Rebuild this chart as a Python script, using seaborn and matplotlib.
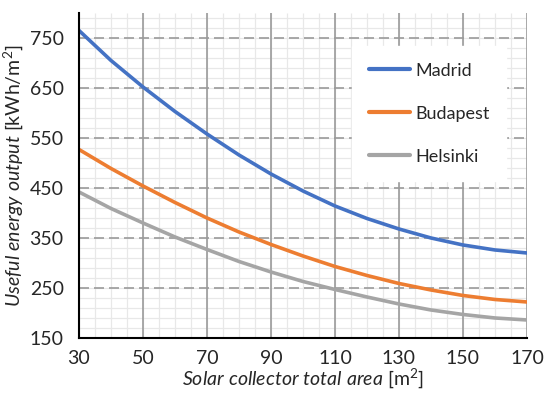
import numpy as np
import pandas as pd
import matplotlib.pyplot as plt
import seaborn as sns

# data
area = [30, 40, 50, 60, 70, 80, 90, 100, 110, 120, 130, 140, 150, 160, 170]
madrid = [765, 705, 652, 603, 558, 516, 478, 444, 414, 389, 368, 350, 336, 326, 320]
budapest = [527, 489, 454, 421, 390, 362, 337, 314, 293, 275, 259, 246, 235, 227, 222]
helsinki = [442, 409, 380, 352, 327, 303, 282, 263, 247, 232, 218, 206, 197, 190, 186]
cities = ["Madrid", "Budapest", "Helsinki"]
colors = ["#4472C4", "#ED7D31", "#A5A5A5"]
xticks = [30, 50, 70, 90, 110, 130, 150, 170]
yticks = [150, 250, 350, 450, 550, 650, 750]

df = pd.DataFrame({
    "Area": area * 3,
    "Output": madrid + budapest + helsinki,
    "City": [c for c in cities for _ in area],
})

sns.set_style("white")
plt.rcParams["font.family"] = ["Lato", "DejaVu Sans"]
plt.rcParams["mathtext.fontset"] = "custom"
plt.rcParams["mathtext.rm"] = "Lato"
plt.rcParams["mathtext.it"] = "Lato:italic"

fig = plt.figure(figsize=(5.5, 3.93), dpi=100)
ax = fig.add_axes([0.1436, 0.14, 0.8145, 0.827])

sns.lineplot(data=df, x="Area", y="Output", hue="City", palette=colors,
             linewidth=2.6, ax=ax)

ax.set_xlim(30, 170)
ax.set_ylim(150, 800)
ax.set_xticks(xticks)
ax.set_yticks(yticks)

# light minor grid underneath, majors on top
ax.vlines(np.arange(30, 171, 5), 150, 800, color="#e8e8e8", linewidth=0.9, zorder=0.1)
ax.hlines(np.arange(150, 801, 20), 30, 170, color="#e8e8e8", linewidth=0.9, zorder=0.1)
ax.yaxis.grid(True, which="major", color="#9a9a9a", linewidth=1.2, linestyle=(0, (6, 3)))
ax.xaxis.grid(True, which="major", color="#9a9a9a", linewidth=1.2, linestyle="-")
ax.set_axisbelow(True)

for s in ["top", "right"]:
    ax.spines[s].set_visible(False)
for s in ["left", "bottom"]:
    ax.spines[s].set_color("black")
    ax.spines[s].set_linewidth(1.5)
    ax.spines[s].set_zorder(3)

ax.tick_params(axis="x", length=0, labelsize=14, pad=9)
ax.tick_params(axis="y", length=0, labelsize=14, pad=11)
ax.set_xlabel(r"$\mathit{Solar\ collector\ total\ area}$ [m$^2$]", fontsize=14, labelpad=-1)
ax.set_ylabel(r"$\mathit{Useful\ energy\ output}$ [kWh/m$^2$]", fontsize=14, labelpad=3)

leg = ax.legend(title=None, loc="upper left", bbox_to_anchor=(0.59, 0.925),
                frameon=True, fancybox=False, framealpha=1, edgecolor="white",
                fontsize=13, handlelength=2.3, labelspacing=1.5,
                borderpad=0.9, handletextpad=0.3)
for line in leg.get_lines():
    line.set_linewidth(3)

fig.savefig("out.png", dpi=100)
